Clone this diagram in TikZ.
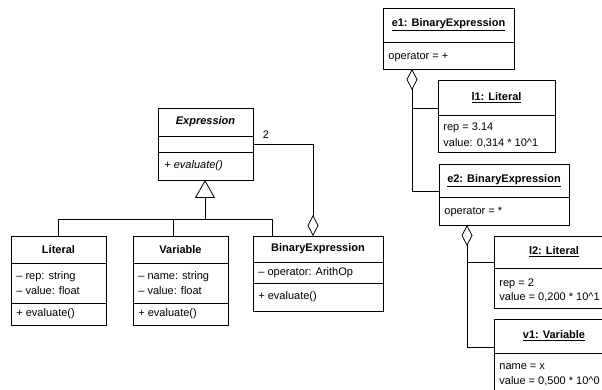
\documentclass[tikz,border=0pt]{standalone}
\usepackage{fontspec}
\setmainfont{Liberation Sans}
\usetikzlibrary{arrows.meta}
\begin{document}
\begin{tikzpicture}[x=1pt,y=-1pt,
  line width=0.8pt,
  umlbox/.style={draw, fill=white, inner sep=0pt, outer sep=0pt, anchor=north west},
  txt/.style={inner sep=0pt, anchor=west, font=\fontsize{11}{13}\selectfont},
  ttl/.style={inner sep=0pt, font=\fontsize{11}{13}\selectfont\bfseries},
  gen/.style={-{Triangle[open,length=18pt,width=20pt]}},
  agg/.style={{Diamond[open,length=21pt,width=11pt]}-}]
\useasboundingbox (0,0) rectangle (602,390);
\clip (0,0) rectangle (602,390);

% ---------- class diagram ----------
\node[umlbox, minimum width=95pt, minimum height=72pt] (expr) at (158,108) {};
\draw (158,136) -- (253,136);
\draw (158,152) -- (253,152);
\node[ttl, font=\fontsize{11}{13}\selectfont\bfseries\itshape] (exprT) at (205.5,122) {Expression};
\node[txt, font=\fontsize{11}{13}\selectfont\itshape] (exprM) at (164,166) {+ evaluate()};

\node[umlbox, minimum width=95pt, minimum height=89pt] (lit) at (11,236) {};
\draw (11,263) -- (106,263);
\draw (11,303) -- (106,303);
\node[ttl] (litT) at (58.5,249.5) {Literal};
\node[txt] (litA1) at (16,277) {– rep: string};
\node[txt] (litA2) at (16,290.5) {– value: float};
\node[txt] (litM) at (16,314) {+ evaluate()};

\node[umlbox, minimum width=95pt, minimum height=89pt] (var) at (133,236) {};
\draw (133,263) -- (228,263);
\draw (133,303) -- (228,303);
\node[ttl] (varT) at (180.5,249.5) {Variable};
\node[txt] (varA1) at (138,277) {– name: string};
\node[txt] (varA2) at (138,290.5) {– value: float};
\node[txt] (varM) at (138,314) {+ evaluate()};

\node[umlbox, minimum width=130pt, minimum height=75pt] (bin) at (253,236) {};
\draw (253,262) -- (383,262);
\draw (253,283) -- (383,283);
\node[ttl] (binT) at (318,249) {BinaryExpression};
\node[txt] (binA1) at (258,272.5) {– operator: ArithOp};
\node[txt] (binM) at (258,297) {+ evaluate()};

% generalization
\coordinate (gj) at (205,219);
\draw[gen] (gj) -- (gj |- expr.south);
\draw ([xshift=47.5pt]lit.north west) |- ([xshift=19pt]bin.north west |- gj) -- ([xshift=19pt]bin.north west);
\draw ([xshift=40pt]var.north west) -- ([xshift=40pt]var.north west |- gj);

% aggregation
\draw[agg] ([xshift=60pt]bin.north west) |- (expr.east);
\node[inner sep=0pt, font=\fontsize{11}{13}\selectfont] (mult) at (266,135) {2};

% ---------- object diagram ----------
\node[umlbox, minimum width=131pt, minimum height=61pt] (e1) at (383,8) {};
\draw (383,42) -- (514,42);
\node[ttl] (e1T) at (448.5,25) {\underline{e1: BinaryExpression}};
\node[txt] (e1A) at (388,57) {operator = +};

\node[umlbox, minimum width=117pt, minimum height=72pt] (l1) at (438,80) {};
\draw (438,115) -- (555,115);
\node[ttl] (l1T) at (496.5,97.5) {\underline{l1: Literal}};
\node[txt] (l1A1) at (443,128) {rep = 3.14};
\node[txt] (l1A2) at (443,143) {value: 0,314 * 10\textasciicircum 1};

\node[umlbox, minimum width=130pt, minimum height=61pt] (e2) at (439,164) {};
\draw (439,197) -- (569,197);
\node[ttl] (e2T) at (504,180.5) {\underline{e2: BinaryExpression}};
\node[txt] (e2A) at (444,212) {operator = *};

\node[umlbox, minimum width=120pt, minimum height=72pt] (l2) at (494,236) {};
\draw (494,268) -- (614,268);
\node[ttl] (l2T) at (554,252) {\underline{l2: Literal}};
\node[txt] (l2A1) at (499,283.5) {rep = 2};
\node[txt] (l2A2) at (499,297.5) {value = 0,200 * 10\textasciicircum 1};

\node[umlbox, minimum width=120pt, minimum height=80pt] (v1) at (494,319) {};
\draw (494,353) -- (614,353);
\node[ttl] (v1T) at (554,336) {\underline{v1: Variable}};
\node[txt] (v1A1) at (499,367) {name = x};
\node[txt] (v1A2) at (499,381) {value = 0,500 * 10\textasciicircum 0};

% object links
\draw[agg] ([xshift=29pt]e1.south west) |- ([yshift=-28pt]l1.north west);
\draw ([xshift=29pt,yshift=-21pt]e1.south west) |- ([yshift=-27pt]e2.north west);
\draw[agg] ([xshift=28pt]e2.south west) |- ([yshift=-26pt]l2.north west);
\draw ([xshift=28pt,yshift=-21pt]e2.south west) |- ([yshift=-28pt]v1.north west);
\end{tikzpicture}
\end{document}
